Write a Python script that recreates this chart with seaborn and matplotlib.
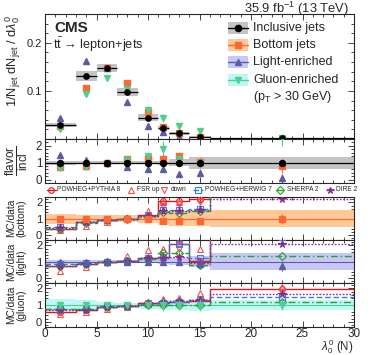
import numpy as np
import pandas as pd
import matplotlib
matplotlib.use("Agg")
import matplotlib.pyplot as plt
import seaborn as sns
from matplotlib.lines import Line2D
from matplotlib.patches import Rectangle
from matplotlib.ticker import MultipleLocator

sns.set_style("ticks")
plt.rcParams["font.family"] = ["Liberation Sans", "DejaVu Sans"]
plt.rcParams["mathtext.fontset"] = "custom"
plt.rcParams["mathtext.rm"] = "Liberation Sans"
plt.rcParams["mathtext.it"] = "Liberation Sans:italic"
plt.rcParams["mathtext.bf"] = "Liberation Sans:bold"

# ---------------- data ----------------
edges = [0, 3, 5, 7, 9, 11, 12, 14, 16, 30]
centers = [1.5, 4, 6, 8, 10, 11.5, 13, 15, 23]

incl = [0.029, 0.131, 0.148, 0.098, 0.044, 0.023, 0.012, 0.004, 0.0012]
incl_unc = [0.005, 0.010, 0.008, 0.009, 0.007, 0.004, 0.003, 0.002, 0.001]
bottom = [0.027, 0.106, 0.148, 0.117, 0.056, 0.025, 0.013, 0.004, 0.001]
light = [0.044, 0.163, 0.148, 0.077, 0.027, 0.014, 0.005, 0.002, 0.0003]
gluon = [0.021, 0.094, 0.127, 0.105, 0.061, 0.044, 0.027, 0.016, 0.003]
gluon_err = [0.003, 0.006, 0.006, 0.006, 0.006, 0.008, 0.004, 0.004, 0.002]

r_incl_band = [0.12, 0.10, 0.08, 0.10, 0.10, 0.12, 0.20, 0.35, 0.35]
r_bottom = [0.72, 0.80, 1.00, 1.20, 1.27, 1.20, 1.37, 1.05, 0.80]
r_bottom_err = [0.08, 0.06, 0.05, 0.06, 0.08, 0.10, 0.15, 0.30, 0.40]
r_light = [1.45, 1.17, 1.00, 0.75, 0.60, 0.60, 0.33, 0.40, 0.12]
r_light_err = [0.10, 0.06, 0.05, 0.06, 0.10, 0.12, 0.15, 0.20, 0.20]
r_gluon = [0.70, 0.75, 0.95, 1.15, 1.37, 1.80, 1.20, 1.00, 2.50]
r_gluon_err = [0.10, 0.06, 0.05, 0.06, 0.15, 0.50, 0.20, 0.30, 0.50]

flavor_labels = ["Inclusive jets", "Bottom jets", "Light-enriched", "Gluon-enriched"]
cut_label = r"(p$_{\rm T}$ > 30 GeV)"

gen_names = ["POWHEG+PYTHIA 8", "FSR up", "down", "POWHEG+HERWIG 7", "SHERPA 2", "DIRE 2"]

mc_bottom = {
    "POWHEG+PYTHIA 8": [0.38, 0.78, 0.90, 1.00, 1.20, 2.05, 2.05, 2.20, 3.00],
    "FSR up":          [0.30, 0.55, 0.80, 1.05, 1.45, 2.00, 2.00, 2.25, 3.00],
    "down":            [0.40, 0.80, 0.85, 1.00, 1.20, 1.80, 1.90, 2.00, 3.00],
    "POWHEG+HERWIG 7": [0.50, 0.80, 0.90, 1.00, 1.15, 1.50, 1.50, 1.60, 2.80],
    "SHERPA 2":        [0.40, 0.75, 0.90, 1.00, 1.10, 1.40, 1.35, 1.45, 2.60],
    "DIRE 2":          [0.45, 0.80, 0.90, 1.00, 1.15, 1.45, 1.45, 1.55, 2.20],
}
mc_light = {
    "POWHEG+PYTHIA 8": [0.75, 0.85, 1.00, 1.05, 1.25, 1.30, 2.05, 1.05, 3.00],
    "FSR up":          [0.45, 0.70, 1.00, 1.35, 1.70, 1.75, 2.30, 1.75, 3.00],
    "down":            [0.80, 0.90, 1.00, 1.00, 1.15, 1.10, 1.80, 0.90, 2.50],
    "POWHEG+HERWIG 7": [0.85, 0.90, 1.00, 1.05, 1.20, 1.30, 2.10, 1.20, 2.50],
    "SHERPA 2":        [0.75, 0.85, 1.00, 1.05, 1.15, 1.55, 1.55, 0.80, 1.35],
    "DIRE 2":          [0.75, 0.85, 1.00, 1.05, 1.20, 1.20, 1.30, 0.90, 2.05],
}
mc_gluon = {
    "POWHEG+PYTHIA 8": [0.62, 0.70, 0.90, 0.95, 1.10, 1.15, 1.20, 1.25, 1.95],
    "FSR up":          [0.45, 0.60, 0.75, 0.90, 1.20, 1.35, 1.45, 1.75, 2.10],
    "down":            [0.60, 0.75, 0.90, 0.95, 1.10, 1.15, 1.20, 1.20, 1.80],
    "POWHEG+HERWIG 7": [0.80, 0.80, 0.95, 0.95, 1.05, 1.15, 1.20, 1.30, 1.50],
    "SHERPA 2":        [0.75, 0.75, 0.90, 0.95, 1.00, 1.00, 1.00, 1.00, 1.20],
    "DIRE 2":          [0.70, 0.70, 0.90, 0.95, 1.10, 1.20, 1.25, 1.30, 1.65],
}

data_bottom = [1.00, 0.95, 0.95, 1.00, 1.00, 0.88, 0.88, 0.85, 1.00]
data_bottom_err = [0.08, 0.08, 0.06, 0.06, 0.08, 0.10, 0.12, 0.20, 0.30]
band_bottom = [0.30, 0.25, 0.20, 0.20, 0.25, 0.40, 0.45, 0.45, 0.50]
data_light = [1.00, 1.00, 1.00, 1.00, 1.00, 1.00, 1.00, 0.85, 0.75]
data_light_err = [0.08, 0.06, 0.05, 0.06, 0.10, 0.12, 0.15, 0.25, 0.30]
band_light = [0.12, 0.10, 0.08, 0.08, 0.10, 0.15, 0.20, 0.35, 0.50]
data_gluon = [1.00, 1.00, 1.00, 1.00, 1.00, 1.00, 1.00, 1.00, 1.00]
data_gluon_err = [0.20, 0.20, 0.15, 0.10, 0.15, 0.35, 0.30, 0.35, 0.30]
band_gluon = [0.35, 0.30, 0.20, 0.15, 0.20, 0.30, 0.30, 0.35, 0.30]

# ---------------- styles ----------------
C_INCL, B_INCL = "black", "#c4c4c4"
C_BOT, B_BOT = "#ff6633", "#ffc896"
C_LIGHT, B_LIGHT = "#5b5ba6", "#c8c8f8"
C_GLU, B_GLU = "#4fcf8f", "#bff7f7"

gen_style = {
    "POWHEG+PYTHIA 8": dict(color="#e8101a", ls="-", marker="o", mfc="none", line=True),
    "FSR up":          dict(color="#f05050", ls="none", marker="^", mfc="none", line=False),
    "down":            dict(color="#f05050", ls="none", marker="v", mfc="none", line=False),
    "POWHEG+HERWIG 7": dict(color="#2f7fef", ls=(0, (4, 2)), marker="s", mfc="none", line=True),
    "SHERPA 2":        dict(color="#2ca02c", ls=(0, (5, 2, 1, 2)), marker="D", mfc="none", line=True),
    "DIRE 2":          dict(color="#8a2a8a", ls=(0, (1.2, 1.2)), marker="*", mfc="#8a2a8a", line=True),
}

W, H = 374, 355
fig = plt.figure(figsize=(W / 100, H / 100), dpi=100)

def fx(px):
    return px / W

def fy(py):
    return 1 - py / H

def add_ax(top, bot, left=45, right=354):
    return fig.add_axes([fx(left), fy(bot), (right - left) / W, (bot - top) / H])

ax0 = add_ax(14, 139)
ax1 = add_ax(139, 183)
axb = add_ax(197, 240)
axl = add_ax(240, 283)
axg = add_ax(283, 327)

widths = np.diff(edges)

def style_axis(ax, labelbottom=False, ysize=8):
    ax.set_xlim(0, 30)
    ax.xaxis.set_major_locator(MultipleLocator(5))
    ax.xaxis.set_minor_locator(MultipleLocator(1))
    ax.tick_params(which="both", direction="in", top=True, right=True,
                   labelbottom=labelbottom, labelsize=ysize, width=0.6, pad=2)
    ax.tick_params(which="major", length=4)
    ax.tick_params(which="minor", length=2)
    for s in ax.spines.values():
        s.set_linewidth(0.8)

MS = 4.3

# ---------------- main panel ----------------
ax0.bar(centers, [2 * u for u in incl_unc], bottom=[v - u for v, u in zip(incl, incl_unc)],
        width=widths, color=B_INCL, linewidth=0, zorder=1)
ax0.errorbar(centers, incl, xerr=widths / 2, fmt="none", ecolor="black", lw=0.9, zorder=2)
ax0.errorbar(centers, bottom, yerr=[0.003] * 9, fmt="s", color=C_BOT, ms=MS, lw=0.8, zorder=3)
ax0.errorbar(centers, light, yerr=[0.003] * 9, fmt="^", color=C_LIGHT, ms=MS, lw=0.8, zorder=3)
ax0.errorbar(centers, gluon, yerr=gluon_err, fmt="v", color=C_GLU, ms=MS, lw=0.8, zorder=3)
df_main = pd.DataFrame({"x": centers, "y": incl})
sns.scatterplot(data=df_main, x="x", y="y", ax=ax0, color="black", s=20, edgecolor="black",
                zorder=4, legend=False)
style_axis(ax0, ysize=8)
ax0.set_ylim(0, 0.26)
ax0.set_yticks([0.1, 0.2])
ax0.yaxis.set_minor_locator(MultipleLocator(0.02))
ax0.set_yticklabels(["0.1", "0.2"])
ax0.set_xlabel("")
ax0.set_ylabel("")
fig.text(fx(13), fy(15), r"1/N$_{\rm jet}$ dN$_{\rm jet}$ / d$\lambda_{0}^{0}$", fontsize=9.3,
         rotation=90, ha="center", va="top")
fig.text(fx(54), fy(20.5), "CMS", fontsize=11, fontweight="bold", va="top", ha="left")
fig.text(fx(53), fy(44.5), r"t$\bar{\rm t}$ → lepton+jets", fontsize=9.2, va="center", ha="left")
fig.text(fx(349), fy(9), r"35.9 fb$^{-1}$ (13 TeV)", fontsize=9.3, ha="right", va="center")

# main legend, placed by hand
leg_cols = [(C_INCL, B_INCL, "o"), (C_BOT, B_BOT, "s"), (C_LIGHT, B_LIGHT, "^"), (C_GLU, B_GLU, "v")]
for i, ((c, b, m), lab) in enumerate(zip(leg_cols, flavor_labels)):
    yc = 28 + 17.2 * i
    fig.add_artist(Rectangle((fx(228), fy(yc + 6)), 20 / W, 12 / H, facecolor=b, edgecolor="none",
                             transform=fig.transFigure))
    fig.add_artist(Line2D([fx(228), fx(248)], [fy(yc), fy(yc)], color=c, lw=1.0,
                          transform=fig.transFigure))
    fig.add_artist(Line2D([fx(238)], [fy(yc)], color=c, ls="none", marker=m, ms=4.5,
                          transform=fig.transFigure))
    fig.text(fx(253), fy(yc), lab, fontsize=9, ha="left", va="center")
fig.text(fx(253), fy(28 + 17.2 * 4), cut_label, fontsize=9, ha="left", va="center")

# ---------------- flavor/incl ----------------
ax1.fill_between(edges, [1 - b for b in r_incl_band] + [1 - r_incl_band[-1]],
                 [1 + b for b in r_incl_band] + [1 + r_incl_band[-1]], step="post",
                 color=B_INCL, lw=0, zorder=1)
ax1.axhline(1, color="black", lw=0.9, zorder=2)
ax1.errorbar(centers, r_bottom, yerr=r_bottom_err, fmt="s", color=C_BOT, ms=MS, lw=0.8, zorder=3)
ax1.errorbar(centers, r_light, yerr=r_light_err, fmt="^", color=C_LIGHT, ms=MS, lw=0.8, zorder=3)
ax1.errorbar(centers, r_gluon, yerr=r_gluon_err, fmt="v", color=C_GLU, ms=MS, lw=0.8, zorder=3)
ax1.errorbar(centers, [1] * 9, yerr=[0.05] * 9, fmt="o", color="black", ms=MS, lw=0.8, zorder=4)
style_axis(ax1, ysize=8.3)
ax1.set_ylim(-0.2, 2.4)
ax1.set_yticks([0, 1, 2])
ax1.yaxis.set_minor_locator(MultipleLocator(0.2))
fig.text(fx(17), fy(161), r"$\frac{\rm flavor}{\rm incl}$", fontsize=12, rotation=90,
         ha="center", va="center")

# ---------------- MC/data panels ----------------
def mc_panel(ax, mc, data, derr, band, dcolor, bcolor, dmarker, name, ymid, labelbottom=False):
    lo = [1 - b for b in band]
    hi = [1 + b for b in band]
    ax.fill_between(edges, lo + [lo[-1]], hi + [hi[-1]], step="post", color=bcolor, lw=0, zorder=1)
    ax.axhline(1, color=dcolor, lw=0.8, zorder=2)
    for g in gen_names:
        st = gen_style[g]
        vals = mc[g]
        if st["line"]:
            df = pd.DataFrame({"x": edges, "y": vals + [vals[-1]]})
            sns.lineplot(data=df, x="x", y="y", ax=ax, color=st["color"], linestyle=st["ls"],
                         drawstyle="steps-post", lw=1.0, estimator=None, sort=False,
                         errorbar=None, zorder=3)
        ms = 5.5 if st["marker"] == "*" else 4.2
        ax.plot(centers, vals, ls="none", marker=st["marker"], mec=st["color"],
                mfc=st["mfc"], ms=ms, mew=0.8, zorder=4)
    ax.errorbar(centers, data, yerr=derr, fmt=dmarker, color=dcolor, ms=MS, lw=0.8, zorder=5)
    style_axis(ax, labelbottom=labelbottom, ysize=8)
    ax.set_ylim(-0.3, 2.32)
    ax.set_yticks([0, 1, 2])
    ax.yaxis.set_minor_locator(MultipleLocator(0.2))
    ax.set_xlabel("")
    ax.set_ylabel("")
    fig.text(fx(16), fy(ymid), "MC/data\n(" + name + ")", fontsize=7.3, linespacing=1.0,
             rotation=90, ha="center", va="center")

mc_panel(axb, mc_bottom, data_bottom, data_bottom_err, band_bottom, C_BOT, B_BOT, "s", "bottom", 218)
mc_panel(axl, mc_light, data_light, data_light_err, band_light, C_LIGHT, B_LIGHT, "^", "light", 262)
mc_panel(axg, mc_gluon, data_gluon, data_gluon_err, band_gluon, C_GLU, B_GLU, "v", "gluon", 305,
         labelbottom=True)
axg.tick_params(axis="x", labelsize=8.5, pad=1.0)
fig.text(fx(353), fy(356), r"$\lambda_{0}^{0}$ (N)", fontsize=8.3, ha="right", va="bottom")

# ---------------- generator legend row (manual placement) ----------------
leg_y = fy(190)
leg_items = [  # (handle centre px, text start px)
    (51, 57), (131, 137), (164, 171), (198, 205), (280, 287), (330, 336),
]
for g, (hx, tx) in zip(gen_names, leg_items):
    st = gen_style[g]
    ms = 5 if st["marker"] == "*" else 4
    if st["line"]:
        fig.add_artist(Line2D([fx(hx - 4.5), fx(hx + 4.5)], [leg_y, leg_y], color=st["color"],
                              ls=st["ls"], lw=1.0, transform=fig.transFigure))
    fig.add_artist(Line2D([fx(hx)], [leg_y], ls="none", marker=st["marker"], mfc=st["mfc"],
                          mec=st["color"], ms=ms, mew=0.8, transform=fig.transFigure))
    fig.text(fx(tx), leg_y, g, fontsize=4.8, ha="left", va="center")

fig.savefig("out.png", dpi=100)
